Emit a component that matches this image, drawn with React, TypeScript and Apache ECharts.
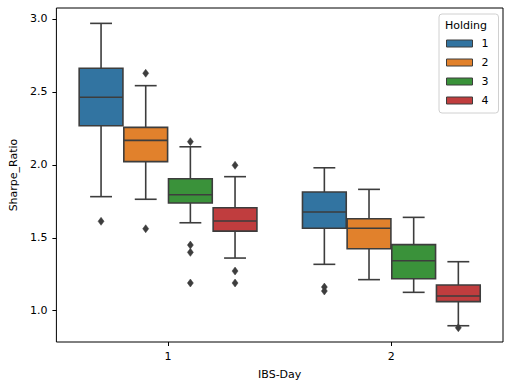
import React, { useEffect, useRef } from 'react';
import * as echarts from 'echarts';

const categories = ['1', '2'];
const holdings = ['1', '2', '3', '4'];
const colors = ['#3274a1', '#e1812c', '#3a923a', '#c03d3e'];
const edgeColor = '#3d3d3d';
// per category: [whiskerLow, Q1, median, Q3, whiskerHigh]
const holding1Box = [[1.782, 2.268, 2.463, 2.662, 2.970], [1.318, 1.565, 1.677, 1.814, 1.980]];
const holding2Box = [[1.764, 2.022, 2.168, 2.257, 2.543], [1.213, 1.425, 1.565, 1.631, 1.832]];
const holding3Box = [[1.603, 1.738, 1.795, 1.905, 2.124], [1.126, 1.219, 1.343, 1.453, 1.640]];
const holding4Box = [[1.361, 1.546, 1.615, 1.706, 1.919], [0.897, 1.062, 1.101, 1.176, 1.336]];
// outliers: [categoryIndex, value]
const holding1Outliers = [[0, 1.613], [1, 1.162], [1, 1.135]];
const holding2Outliers = [[0, 2.628], [0, 1.562]];
const holding3Outliers = [[0, 2.159], [0, 1.450], [0, 1.400], [0, 1.190]];
const holding4Outliers = [[0, 1.997], [0, 1.272], [0, 1.190], [1, 0.883]];
const yTicks = [1.0, 1.5, 2.0, 2.5, 3.0];
const yMin = 0.7855;
const yMax = 3.0754;

const boxes = [holding1Box, holding2Box, holding3Box, holding4Box];
const outliers = [holding1Outliers, holding2Outliers, holding3Outliers, holding4Outliers];

const FONT = 'DejaVu Sans';

function makeBoxRender(hueIdx: number) {
  return (params: any, api: any) => {
    const cat = api.value(0);
    const band = api.size([1, 0])[0];
    const off = (hueIdx - 1.5) * 0.2 * band;
    const w = 0.2 * band * 0.98;
    const lo = api.coord([cat, api.value(1)]);
    const q1 = api.coord([cat, api.value(2)]);
    const md = api.coord([cat, api.value(3)]);
    const q3 = api.coord([cat, api.value(4)]);
    const hi = api.coord([cat, api.value(5)]);
    const cx = lo[0] + off;
    const lineStyle = { stroke: edgeColor, lineWidth: 1.6, fill: null };
    return {
      type: 'group',
      children: [
        { type: 'line', shape: { x1: cx, y1: q1[1], x2: cx, y2: lo[1] }, style: lineStyle },
        { type: 'line', shape: { x1: cx, y1: q3[1], x2: cx, y2: hi[1] }, style: lineStyle },
        { type: 'line', shape: { x1: cx - w / 4, y1: lo[1], x2: cx + w / 4, y2: lo[1] }, style: lineStyle },
        { type: 'line', shape: { x1: cx - w / 4, y1: hi[1], x2: cx + w / 4, y2: hi[1] }, style: lineStyle },
        {
          type: 'rect',
          shape: { x: cx - w / 2, y: q3[1], width: w, height: q1[1] - q3[1] },
          style: { fill: colors[hueIdx], stroke: edgeColor, lineWidth: 1.6 },
        },
        { type: 'line', shape: { x1: cx - w / 2, y1: md[1], x2: cx + w / 2, y2: md[1] }, style: lineStyle },
      ],
    };
  };
}

function makeOutlierRender(hueIdx: number) {
  return (params: any, api: any) => {
    const cat = api.value(0);
    const band = api.size([1, 0])[0];
    const off = (hueIdx - 1.5) * 0.2 * band;
    const p = api.coord([cat, api.value(1)]);
    const cx = p[0] + off;
    const cy = p[1];
    return {
      type: 'polygon',
      shape: { points: [[cx, cy - 4], [cx + 3, cy], [cx, cy + 4], [cx - 3, cy]] },
      style: { fill: edgeColor, stroke: edgeColor, lineWidth: 0.5 },
    };
  };
}

export default function App() {
  const ref = useRef<HTMLDivElement>(null);
  useEffect(() => {
    document.body.style.margin = '0';
    const chart = echarts.init(ref.current!, null, { renderer: 'svg' });
    const boxSeries = holdings.map((h, i) => ({
      type: 'custom',
      name: h,
      itemStyle: { color: colors[i] },
      renderItem: makeBoxRender(i),
      encode: { x: 0, y: [1, 2, 3, 4, 5] },
      data: boxes[i].map((b, ci) => [ci, ...b]),
      z: 2,
    }));
    const outlierSeries = holdings.map((h, i) => ({
      type: 'custom',
      name: 'outliers ' + h,
      itemStyle: { color: edgeColor },
      renderItem: makeOutlierRender(i),
      encode: { x: 0, y: 1 },
      data: outliers[i],
      z: 3,
    }));
    chart.setOption({
      animation: false,
      color: colors,
      textStyle: { fontFamily: FONT },
      grid: {
        left: 55, right: 9, top: 8, bottom: 48,
        show: true, borderColor: '#000', borderWidth: 1, backgroundColor: 'transparent',
      },
      xAxis: {
        type: 'category',
        data: categories,
        name: 'IBS-Day',
        nameLocation: 'middle',
        nameGap: 27,
        nameTextStyle: { fontSize: 11, color: '#000', fontFamily: FONT },
        axisLine: { show: false },
        axisTick: { show: true, alignWithLabel: true, length: 4, lineStyle: { color: '#000' } },
        axisLabel: { fontSize: 11, color: '#000', margin: 9, fontFamily: FONT },
        splitLine: { show: false },
      },
      yAxis: {
        type: 'value',
        min: yMin,
        max: yMax,
        name: 'Sharpe_Ratio',
        nameLocation: 'middle',
        nameGap: 35,
        nameTextStyle: { fontSize: 11, color: '#000', fontFamily: FONT },
        axisLine: { show: false },
        axisTick: { show: true, length: 4, customValues: yTicks, lineStyle: { color: '#000' } },
        axisLabel: {
          fontSize: 11, color: '#000', margin: 9, fontFamily: FONT,
          customValues: yTicks,
          formatter: (v: number) => v.toFixed(1),
        },
        splitLine: { show: false },
      },
      legend: {
        data: holdings.map((h) => ({ name: h, icon: 'rect' })),
        orient: 'vertical',
        left: 439,
        top: 14,
        padding: [24, 10, 7, 7],
        itemWidth: 26,
        itemHeight: 7,
        itemGap: 8,
        itemStyle: { borderColor: edgeColor, borderWidth: 1 },
        textStyle: { fontSize: 11, color: '#000', fontFamily: FONT, padding: [0, 0, 0, 4] },
        borderColor: '#d0d0d0',
        borderWidth: 1,
        borderRadius: 3,
        backgroundColor: 'rgba(255,255,255,0.8)',
        selectedMode: false,
      },
      graphic: [
        {
          type: 'text',
          left: 445,
          top: 20,
          style: { text: 'Holding', font: `11px "${FONT}"`, fill: '#000' },
          z: 100,
        },
      ],
      series: [...boxSeries, ...outlierSeries],
    });
    return () => chart.dispose();
  }, []);
  return <div ref={ref} style={{ width: 512, height: 390 }} />;
}
